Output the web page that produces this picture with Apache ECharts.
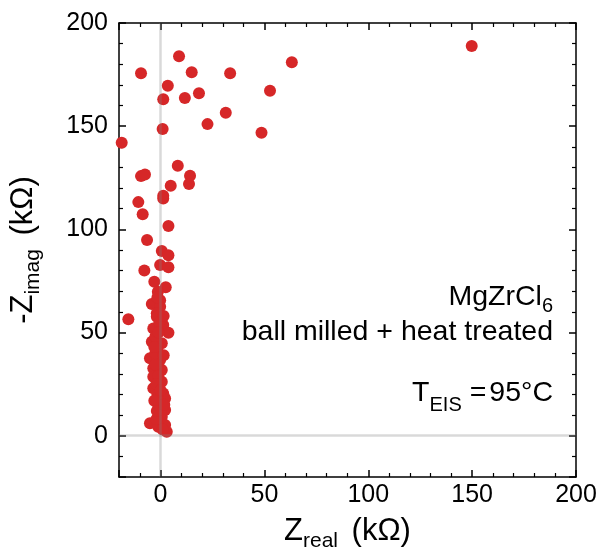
<!DOCTYPE html>
<html>
<head>
<meta charset="utf-8">
<script src="https://cdn.jsdelivr.net/npm/echarts@6/dist/echarts.min.js"></script>
<style>html,body{margin:0;padding:0;background:#fff}#c{width:602px;height:552px}</style>
</head>
<body>
<div id="c"></div>
<script>
// Z_real (kΩ) and -Z_imag (kΩ) values
const zReal = [149.8, 63.2, 8.9, -9.4, 15.0, 33.5, 3.5, 52.7, 18.5, 1.3,
  11.7, 31.4, 22.6, 48.6, 1.0, -18.7, 8.3, -9.4, -7.5, 14.2,
  13.7, 4.9, 1.3, 1.3, -10.7, -8.6, 3.8, -6.5, 0.6, 3.8,
  -0.2, 3.8, -7.8, -3.0, 2.5, -1.3, -0.2, -4.2, -0.2, -1.8,
  -1.8, -15.5, 1.3, 3.8, -3.5, -4.2, 0.6, -5.1, -0.2, -3.5,
  0.6, -3.5, 0.6, -3.5, 1.3, 2.2, -1.1, 2.2, -5.1, 0.6,
  2.2, 3.0, -1.1, -2.5, -1.5, -2.5, -1.0, -2.0, -1.5, -3.0,
  0.0, -2.0, 1.0, -0.5, -2.5, 1.5, -3.0, 0.0, -1.8, 1.8,
  -1.0, 1.5, -1.5];
const zImag = [188.8, 181.0, 183.9, 175.6, 176.1, 175.6, 169.6, 167.2, 166.0, 163.0,
  163.7, 156.5, 151.0, 146.8, 148.6, 142.0, 130.8, 125.8, 126.6, 126.0,
  122.0, 121.1, 116.3, 115.0, 113.2, 107.3, 101.6, 94.8, 89.5, 87.5,
  82.7, 81.6, 80.1, 74.6, 71.9, 69.8, 65.7, 63.8, 62.5, 59.3,
  57.7, 56.4, 53.6, 49.9, 52.0, 45.5, 44.8, 37.5, 36.7, 32.7,
  31.8, 28.6, 26.2, 23.0, 20.5, 18.1, 14.9, 12.5, 6.0, 9.2,
  5.2, 1.9, 4.4, 48.0, 41.0, 34.5, 29.0, 25.0, 20.0, 17.0,
  11.0, 8.0, 3.0, 55.0, 40.0, 39.0, 43.0, 22.0, 12.0, 15.0,
  50.0, 58.0, 67.0];
const axisRange = [-20, 200];
const majorStep = 50;
const zeroRefs = [0];

const F = "'Liberation Sans', Arial, Helvetica, sans-serif";
const points = zReal.map((x, i) => [x, zImag[i]]);

function axis(pos, showLabel, extra) {
  return Object.assign({
    type: 'value', position: pos,
    min: axisRange[0], max: axisRange[1],
    minInterval: majorStep, maxInterval: majorStep,
    axisLine: {show: true, onZero: false, lineStyle: {color: '#000', width: 1.5}},
    axisTick: {show: true, inside: true, length: 7, lineStyle: {color: '#000', width: 1.5}},
    minorTick: {show: true, splitNumber: 5, length: 4, lineStyle: {color: '#000', width: 1.2}},
    splitLine: {show: false},
    minorSplitLine: {show: false},
    axisLabel: {show: showLabel, showMinLabel: false, fontSize: 25, color: '#000', fontFamily: F, margin: 6}
  }, extra || {});
}

const nameRich = {
  a: {fontSize: 31, lineHeight: 31, verticalAlign: 'top', color: '#000', fontFamily: F},
  k: {fontSize: 31, lineHeight: 31, verticalAlign: 'top', color: '#000', fontFamily: F, padding: [0, 0, 0, 5]},
  s: {fontSize: 21, lineHeight: 21, verticalAlign: 'top', color: '#000', fontFamily: F, padding: [14.5, 0, 0, 0]}
};

const chart = echarts.init(document.getElementById('c'), null, {renderer: 'canvas'});
chart.setOption({
  animation: false,
  backgroundColor: '#fff',
  grid: {left: 119, top: 23, right: 26, bottom: 75, containLabel: false, outerBoundsMode: 'none'},
  xAxis: [
    axis('bottom', true, {
      name: '{a|Z}{s|real}{k| (kΩ)}', nameLocation: 'middle', nameGap: 39,
      nameTextStyle: {fontSize: 31, fontFamily: F, color: '#000', rich: nameRich}
    }),
    axis('top', false)
  ],
  yAxis: [
    axis('left', true, {
      axisLabel: {show: true, showMinLabel: false, fontSize: 25, color: '#000', fontFamily: F, margin: 11},
      name: '{a|-Z}{s|imag}{k| (kΩ)}', nameLocation: 'middle', nameGap: 80, nameRotate: 90,
      nameTextStyle: {fontSize: 31, fontFamily: F, color: '#000', rich: nameRich}
    }),
    axis('right', false)
  ],
  series: [
    {
      type: 'scatter', data: points, symbol: 'circle', symbolSize: 12, z: 2,
      itemStyle: {color: '#d62728', opacity: 1},
      markLine: {
        silent: true, symbol: 'none', z: 5,
        label: {show: false},
        lineStyle: {color: 'rgba(128,128,128,0.3)', width: 2.5, type: 'solid'},
        data: [{xAxis: zeroRefs[0]}, {yAxis: zeroRefs[0]}]
      }
    }
  ],
  graphic: [
    {type: 'text', x: 553, y: 282.5, z: 100, style: {
      text: '{a|MgZrCl}{s|6}', align: 'right', verticalAlign: 'top', fill: '#000', fontSize: 28.5, fontFamily: F,
      rich: {
        a: {fontSize: 28.5, lineHeight: 27, verticalAlign: 'top', fill: '#000', fontFamily: F},
        s: {fontSize: 20, lineHeight: 20, verticalAlign: 'top', fill: '#000', fontFamily: F, padding: [14, 0, 0, 0]}
      }}},
    {type: 'text', x: 553, y: 332.3, z: 100, style: {
      text: 'ball milled + heat treated', align: 'right', verticalAlign: 'middle', fill: '#000', fontSize: 28.5, fontFamily: F}},
    {type: 'text', x: 553, y: 379, z: 100, style: {
      text: '{a|T}{s|EIS}{e| =}{a|95°C}', align: 'right', verticalAlign: 'top', fill: '#000', fontSize: 28.5, fontFamily: F,
      rich: {
        a: {fontSize: 28.5, lineHeight: 27, verticalAlign: 'top', fill: '#000', fontFamily: F},
        e: {fontSize: 28.5, lineHeight: 27, verticalAlign: 'top', fill: '#000', fontFamily: F, padding: [0, 3, 0, 0]},
        s: {fontSize: 20, lineHeight: 20, verticalAlign: 'top', fill: '#000', fontFamily: F, padding: [16, 0, 0, 0]}
      }}}
  ]
});
</script>
</body>
</html>
